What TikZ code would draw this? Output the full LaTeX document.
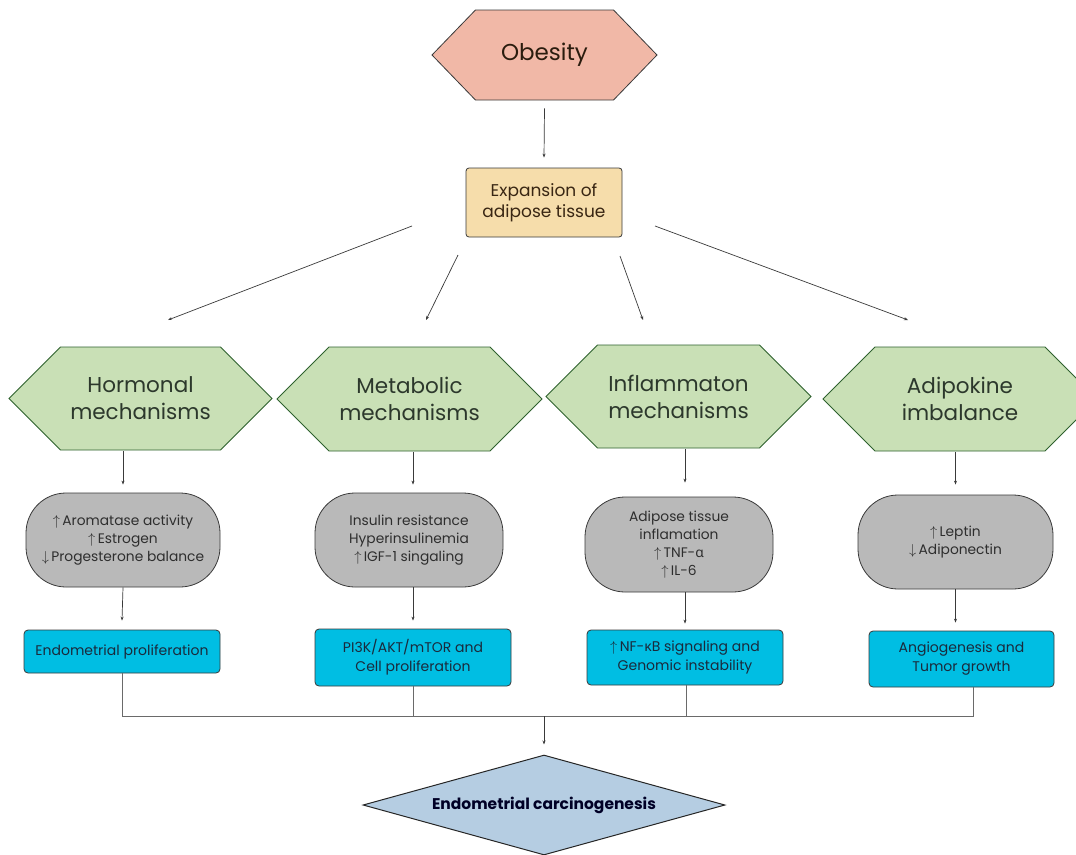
\documentclass[tikz,border=0pt]{standalone}
\usepackage{fontspec}
\setmainfont{Poppins}
\newfontfamily\grk{Noto Sans}
\usetikzlibrary{shapes,arrows.meta,positioning,calc}

\definecolor{obesityfill}{HTML}{F1B8A7}
\definecolor{tissuefill}{HTML}{F6DDAB}
\definecolor{mechfill}{HTML}{C9E0B6}
\definecolor{effectfill}{HTML}{B9B9B9}
\definecolor{pathfill}{HTML}{00BEE3}
\definecolor{endfill}{HTML}{B5CDE2}
\definecolor{edge}{HTML}{3A3A3A}
\definecolor{joinline}{HTML}{6A6A6A}
\definecolor{mechtext}{HTML}{2C382C}
\definecolor{pathtext}{HTML}{1A2A3C}

\newcommand{\up}{$\uparrow$}
\newcommand{\down}{$\downarrow$}

\begin{document}
\begin{tikzpicture}[x=1pt,y=-1pt,
  hexa/.style={signal, signal to=east and west, signal pointer angle=90, draw=edge!80!green, fill=mechfill,
    line width=0.8pt, inner sep=0pt, align=center, text=mechtext,
    font=\fontsize{21.5}{27}\selectfont},
  effect/.style={rectangle, rounded corners=40pt, draw=edge, fill=effectfill, line width=0.8pt,
    inner sep=0pt, align=center, text=black!82, font=\fontsize{13.8}{18}\selectfont},
  pathbox/.style={rectangle, rounded corners=4pt, draw=edge, fill=pathfill, line width=0.8pt,
    inner sep=0pt, align=center, text=pathtext, font=\fontsize{14}{19}\selectfont},
  arr/.style={draw=edge, line width=0.7pt, -{Stealth[length=4pt,width=3pt]}},
  joinln/.style={draw=joinline, line width=1pt}]
\clip (0,0) rectangle (1076,854);
\fill[white] (0,0) rectangle (1076,854);

% top of the chain
\node[signal, signal to=east and west, signal pointer angle=92, draw=edge, fill=obesityfill, line width=0.8pt,
  minimum width=225pt, minimum height=90pt, inner sep=0pt, text=black!78!brown,
  font=\fontsize{23}{28}\selectfont] (obesity) at (544.5,55) {Obesity};
\node[rectangle, rounded corners=3pt, draw=edge, fill=tissuefill, line width=0.8pt, minimum width=156pt,
  minimum height=69pt, inner sep=0pt, align=center, text=black!70!brown,
  font=\fontsize{17}{21}\selectfont] (tissue) at (544,202.5) {Expansion of\\adipose tissue};
\draw[arr] ([yshift=-8pt]obesity.south) -- ([yshift=10pt]tissue.north);

% the four mechanisms
\node[hexa, minimum width=263pt, minimum height=103pt] (hormonal) at (140.5,398.5) {Hormonal\\mechanisms};
\node[hexa, minimum width=265pt, minimum height=104pt] (metabolic) at (409.5,399) {Metabolic\\mechanisms};
\node[hexa, minimum width=265pt, minimum height=103pt] (inflam) at (678.5,396.5) {Inflammaton\\mechanisms};
\node[hexa, minimum width=274pt, minimum height=104pt] (adipokine) at (960,399) {Adipokine\\imbalance};

\coordinate (s1) at (412,226); \coordinate (t1) at (168,320);
\coordinate (s2) at (458,255); \coordinate (t2) at (426,320);
\coordinate (s3) at (620,256); \coordinate (t3) at (643,320);
\coordinate (s4) at (655,226); \coordinate (t4) at (908,320);
\foreach \i in {1,...,4}
  \draw[arr] (s\i) -- (t\i);

% effects
\node[effect, minimum width=194pt, minimum height=94pt] (hormeff) at (123,540)
  {\up\,Aromatase activity\\\up\,Estrogen\\\down\,Progesterone balance};
\node[effect, minimum width=188pt, minimum height=94pt] (metaeff) at (409,540)
  {Insulin resistance\\Hyperinsulinemia\\\up\,IGF-1 singaling};
\node[effect, minimum width=188pt, minimum height=95pt] (inflameff) at (679,544.5)
  {Adipose tissue\\inflamation\\\up\,TNF-{\grk α}\\\up\,IL-6};
\node[effect, minimum width=195pt, minimum height=94pt] (adipoeff) at (955.5,542)
  {\up\,Leptin\\\down\,Adiponectin};

% pathways
\node[pathbox, minimum width=196pt, minimum height=43pt] (hormpath) at (122,651.5) {Endometrial proliferation};
\node[pathbox, minimum width=196pt, minimum height=57pt] (metapath) at (413,657.5) {PI3K/AKT/mTOR and\\Cell proliferation};
\node[pathbox, minimum width=196pt, minimum height=55pt] (inflampath) at (685,657.5) {\up\,NF-{\grk κ}B signaling and\\Genomic instability};
\node[pathbox, minimum width=185pt, minimum height=56pt] (adipopath) at (961.5,659) {Angiogenesis and\\Tumor growth};

\draw[arr] ([yshift=-1pt]hormonal.south -| hormeff) -- ([yshift=8pt]hormeff.north);
\draw[arr] ([yshift=-1pt]metabolic.south -| metapath) -- ([yshift=8pt]metaeff.north -| metapath);
\draw[arr] ([yshift=-1pt]inflam.south -| inflampath) -- ([yshift=14pt]inflameff.north -| inflampath);
\draw[arr] ([yshift=-1pt]adipokine.south -| adipoeff) -- ([yshift=10pt]adipoeff.north);

\draw[arr] (hormeff.south) -- ([yshift=9pt]hormpath.north);
\draw[arr] (metaeff.south -| metapath) -- ([yshift=8pt]metapath.north);
\draw[arr] (inflameff.south -| inflampath) -- ([yshift=6pt]inflampath.north);
\draw[arr] (adipoeff.south) -- ([yshift=8pt]adipopath.north -| adipoeff);

% joining line
\coordinate (j1) at (122,716);
\coordinate (j2) at (413,716);
\coordinate (j3) at (686,716);
\coordinate (j4) at (973,716);
\draw[joinln] (hormpath.south) -- (j1) -- (j4) -- (j4 |- adipopath.south);
\draw[joinln] (metapath.south) -- (j2);
\draw[joinln] (inflampath.south -| j3) -- (j3);

\node[diamond, aspect=3.62, draw=black!85, fill=endfill, line width=1pt, minimum width=362pt, minimum height=100pt,
  inner sep=0pt, text=black!85!blue, font=\bfseries\fontsize{15.5}{18}\selectfont] (carcino) at (544,805)
  {Endometrial carcinogenesis};
\draw[arr] (j1 -| carcino) -- ([yshift=10pt]carcino.north);
\end{tikzpicture}
\end{document}
